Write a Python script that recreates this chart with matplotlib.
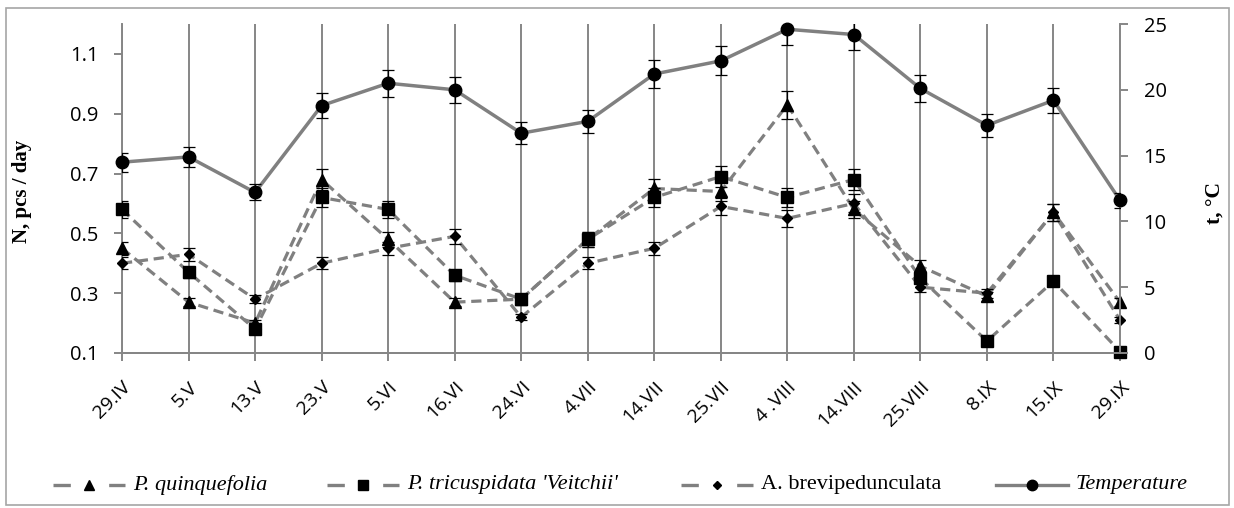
import numpy as np
import matplotlib
matplotlib.use("Agg")
import matplotlib.pyplot as plt
from matplotlib.lines import Line2D
from matplotlib.patches import Rectangle

dates = ["29.IV", "5.V", "13.V", "23.V", "5.VI", "16.VI", "24.VI", "4.VII",
         "14.VII", "25.VII", "4 .VIII", "14.VIII", "25.VIII", "8.IX", "15.IX", "29.IX"]

quinquefolia = [0.45, 0.27, 0.20, 0.68, 0.48, 0.27, 0.28, 0.48,
                0.65, 0.64, 0.93, 0.58, 0.39, 0.29, 0.57, 0.27]
tricuspidata = [0.58, 0.37, 0.18, 0.62, 0.58, 0.36, 0.28, 0.48,
                0.62, 0.69, 0.62, 0.68, 0.35, 0.14, 0.34, 0.105]
brevipedunculata = [0.40, 0.43, 0.28, 0.40, 0.45, 0.49, 0.22, 0.40,
                    0.45, 0.59, 0.55, 0.60, 0.32, 0.30, 0.57, 0.21]
temperature = [14.5, 14.9, 12.2, 18.8, 20.5, 20.0, 16.7, 17.6,
               21.2, 22.2, 24.6, 24.2, 20.1, 17.3, 19.2, 11.6]

# error bars are 5 % of each value
ERR = 0.05

W, H = 1234, 508
GREY = "#868686"
LINE_GREY = "#808080"
serif = "Liberation Serif"
sans = "Open Sans"

fig = plt.figure(figsize=(W / 100, H / 100), dpi=100)
ax = fig.add_axes([122 / W, 1 - 353 / H, (1120 - 122) / W, (353 - 24) / H])
ax2 = ax.twinx()

x = np.arange(len(dates))
dash = (3.2, 1.8)

series = [
    (quinquefolia, "^", 8, "P. quinquefolia", "italic"),
    (tricuspidata, "s", 8, "P. tricuspidata 'Veitchii'", "italic"),
    (brevipedunculata, "D", 5.5, "A. brevipedunculata", "normal"),
]
for vals, m, ms, name, style in series:
    vals = np.array(vals)
    ax.errorbar(x, vals, yerr=ERR * vals, fmt="none", ecolor="black",
                elinewidth=0.9, capsize=4, capthick=0.9, zorder=3)
    ax.plot(x, vals, color=LINE_GREY, lw=2.3, dashes=dash, zorder=2, clip_on=False)
    ax.plot(x, vals, ls="none", marker=m, ms=ms, color="black", zorder=4, clip_on=False)

t = np.array(temperature)
ax2.errorbar(x, t, yerr=ERR * t, fmt="none", ecolor="black",
             elinewidth=0.9, capsize=4, capthick=0.9, zorder=3)
ax2.plot(x, t, color=LINE_GREY, lw=2.5, zorder=2, clip_on=False)
ax2.plot(x, t, ls="none", marker="o", ms=9, color="black", zorder=4, clip_on=False)

ax.set_xlim(0, len(dates) - 1)
ax.set_ylim(0.1, 1.2)
ax.set_yticks([0.1, 0.3, 0.5, 0.7, 0.9, 1.1])
ax.set_yticklabels(["0.1", "0.3", "0.5", "0.7", "0.9", "1.1"])
ax2.set_ylim(0, 25)
ax2.set_yticks([0, 5, 10, 15, 20, 25])

ax.set_xticks(x)
ax.set_xticklabels(dates, rotation=45, ha="right", va="top", rotation_mode="anchor",
                   fontfamily=sans, fontsize=14)
ax.xaxis.grid(True, color=GREY, lw=1.4)
ax.set_axisbelow(True)

for a in (ax, ax2):
    a.spines["top"].set_visible(False)
    for s in ("left", "right", "bottom"):
        a.spines[s].set_color(GREY)
        a.spines[s].set_linewidth(1.4)
    a.tick_params(axis="both", color=GREY, width=1.4, length=6)
    a.tick_params(axis="y", labelsize=14.5, pad=11)
    for lab in a.get_yticklabels():
        lab.set_fontfamily(sans)
ax.tick_params(axis="x", pad=12)
ax2.spines["left"].set_visible(False)
ax.spines["right"].set_visible(False)

ax.set_ylabel("N, pcs / day", fontfamily=serif, fontweight="bold", fontsize=15)
ax.yaxis.set_label_coords((32 - 122) / 998, 0.49)
ax2.set_ylabel("t, \u00b0C", fontfamily=serif, fontweight="bold", fontsize=15.5)
ax2.yaxis.set_label_coords((1205 - 122) / 998, 0.455)

# legend row along the bottom: dash - marker - dash, then the series name
legend_items = [
    ("^", 6.5, (5.2, 11.5), "P. quinquefolia", "italic", 53),
    ("s", 6.5, (5.2, 11.5), "P. tricuspidata 'Veitchii'", "italic", 327),
    ("D", 4.5, (5.2, 11.5), "A. brevipedunculata", "normal", 681),
    ("o", 7.5, None, "Temperature", "italic", 996),
]
ly = 1 - 485 / H
for m, ms, dsh, label, style, x0 in legend_items:
    line = Line2D([x0 / W, (x0 + 72) / W], [ly, ly], transform=fig.transFigure,
                  color=LINE_GREY, lw=2.4)
    if dsh is not None:
        line.set_dashes(dsh)
    fig.lines.append(line)
    fig.lines.append(Line2D([(x0 + 36) / W], [ly], transform=fig.transFigure,
                            ls="none", marker=m, ms=ms, color="black"))
    fig.text((x0 + 80) / W, ly, label, fontfamily=serif, fontstyle=style,
             fontsize=16, va="center", ha="left")

fig.patches.append(Rectangle((6 / W, 3 / H), 1223 / W, 497 / H,
                             transform=fig.transFigure, fill=False,
                             edgecolor="#a6a6a6", lw=1.2))

fig.savefig("out.png", dpi=100)
